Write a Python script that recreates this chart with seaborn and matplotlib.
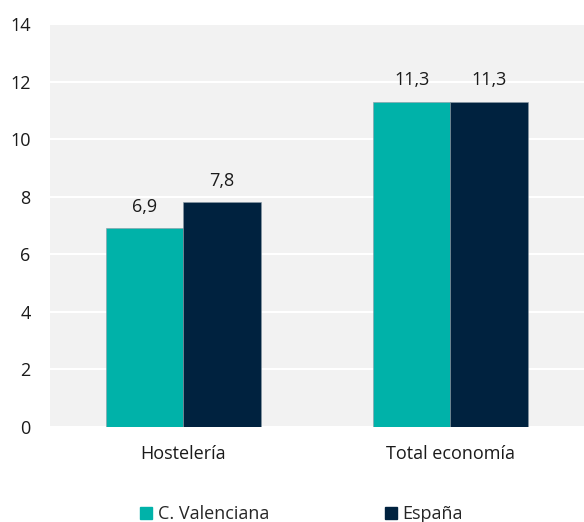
import pandas as pd
import matplotlib.pyplot as plt
import seaborn as sns

categories = ['Hostelería', 'Total economía']
series = ['C. Valenciana', 'España']
valenciana = [6.9, 11.3]
espana = [7.8, 11.3]
colors = ['#00b2a9', '#00223f']

df = pd.DataFrame({
    'Sector': categories * 2,
    'Serie': [series[0]] * 2 + [series[1]] * 2,
    'Valor': valenciana + espana,
})

sns.set_style('white')
plt.rcParams['font.family'] = ['Open Sans', 'DejaVu Sans']

fig = plt.figure(figsize=(5.84, 5.22), dpi=100)
ax = fig.add_axes([0.0856, 0.182, 0.9144, 0.772])
ax.set_facecolor('#f2f2f2')

sns.barplot(data=df, x='Sector', y='Valor', hue='Serie', palette=colors,
            saturation=1, width=0.577, gap=0, edgecolor='#8a9aa5', linewidth=0.4,
            ax=ax, legend=False, zorder=3)

for cont in ax.containers:
    ax.bar_label(cont, labels=[f'{v:.1f}'.replace('.', ',') for v in cont.datavalues],
                 padding=9, fontsize=13, color='#1a1a1a')

ax.set_ylim(0, 14)
ax.set_yticks(range(0, 15, 2))
ax.set_xlim(-0.5, 1.5)
ax.grid(axis='y', color='white', linewidth=1.5, zorder=0)
ax.set_axisbelow(True)
for s in ax.spines.values():
    s.set_visible(False)
ax.tick_params(axis='y', length=0, pad=14, labelsize=13, labelcolor='#1a1a1a')
ax.tick_params(axis='x', length=0, pad=13, labelsize=13, labelcolor='#1a1a1a')
ax.set_xlabel('')
ax.set_ylabel('')

handles = [plt.Rectangle((0, 0), 1, 1, color=c) for c in colors]
fig.legend(handles, series, loc='lower center', bbox_to_anchor=(0.516, -0.034), ncol=2,
           frameon=False, fontsize=13, handlelength=0.7, handleheight=0.7,
           handletextpad=0.3, columnspacing=6.4)

plt.savefig('out.png', dpi=100)
